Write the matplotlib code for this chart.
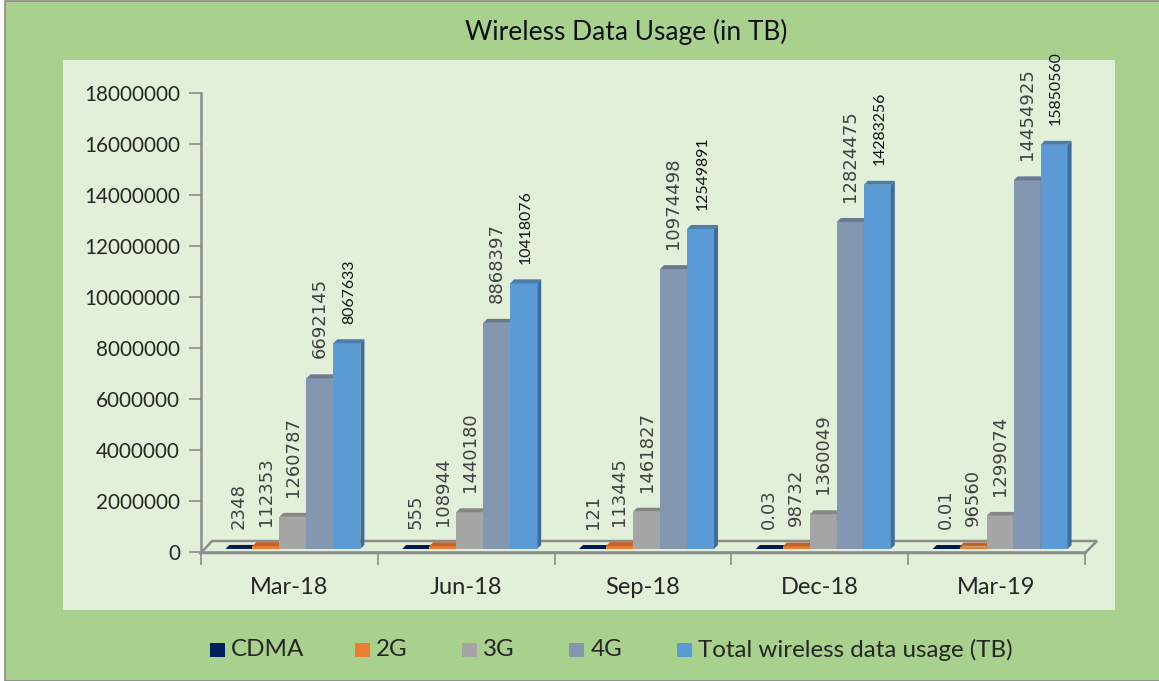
import matplotlib
matplotlib.use('Agg')
import matplotlib.pyplot as plt
from matplotlib.patches import Polygon, Rectangle

# Dados
quarters = ['Mar-18', 'Jun-18', 'Sep-18', 'Dec-18', 'Mar-19']
cdma = [2348, 555, 121, 0.03, 0.01]
g2 = [112353, 108944, 113445, 98732, 96560]
g3 = [1260787, 1440180, 1461827, 1360049, 1299074]
g4 = [6692145, 8868397, 10974498, 12824475, 14454925]
total = [8067633, 10418076, 12549891, 14283256, 15850560]
series_names = ['CDMA', '2G', '3G', '4G', 'Total wireless data usage (TB)']
y_ticks = [0, 2000000, 4000000, 6000000, 8000000, 10000000, 12000000, 14000000, 16000000, 18000000]

W, H = 1159, 681
colors = ['#002060', '#ED7D31', '#A5A5A5', '#8497B0', '#5B9BD5']
tops = ['#001a4d', '#c0652a', '#868686', '#6a7a90', '#4a7dad']
sides = ['#001a4d', '#b85f26', '#808080', '#64738a', '#3f6c99']
text_color = '#262626'
series = [cdma, g2, g3, g4, total]

plt.rcParams['font.family'] = ['Lato', 'DejaVu Sans']
fig = plt.figure(figsize=(W / 100, H / 100), dpi=100, facecolor='white')

# Fundo verde e painel claro
fig.patches.append(Rectangle((5 / W, 0), 1, 1 - 1 / H, transform=fig.transFigure,
                             facecolor='#A9D18E', edgecolor='#8a8a8a', linewidth=1.2))
fig.patches.append(Rectangle((63 / W, 1 - 610 / H), (1115 - 63) / W, (610 - 60) / H,
                             transform=fig.transFigure, facecolor='#E2F0D9', edgecolor='none'))

ax = fig.add_axes([201 / W, 1 - 552 / H, (1085 - 201) / W, (552 - 93) / H])
ax.set_zorder(5)
ax.patch.set_alpha(0)
ax.set_xlim(0, 5)
ax.set_ylim(0, 18000000)
px_x = 5 / (1085 - 201)
px_y = 18000000 / (552 - 93)

# Piso em perspectiva
ax.add_patch(Polygon([(0, -1 * px_y), (11 * px_x, 11 * px_y), (5 + 12 * px_x, 11 * px_y), (5, -1 * px_y)],
                     closed=True, facecolor='none', edgecolor='#8c8c8c', linewidth=1.8,
                     clip_on=False, zorder=1))

bar_w = 27 * px_x
lift = 3 * px_y
depth_x = 4 * px_x
depth_y = 4 * px_y
shift = 3.5 * px_x
for i, vals in enumerate(series):
    for k, v in enumerate(vals):
        left = k + 0.5 - 2.5 * bar_w + i * bar_w + shift
        # frente, topo e lateral da barra
        ax.bar(left, v, width=bar_w, bottom=lift, align='edge', color=colors[i],
               linewidth=0, zorder=3 + i, clip_on=False)
        top = v + lift
        ax.add_patch(Polygon([(left, top), (left + bar_w, top),
                              (left + bar_w + depth_x, top + depth_y), (left + depth_x, top + depth_y)],
                             closed=True, facecolor=tops[i], edgecolor='none', zorder=3 + i, clip_on=False))
        ax.add_patch(Polygon([(left + bar_w, lift), (left + bar_w + depth_x, lift + depth_y),
                              (left + bar_w + depth_x, top + depth_y), (left + bar_w, top)],
                             closed=True, facecolor=sides[i], edgecolor='none', zorder=3 + i, clip_on=False))
        # rotulos de dados
        if i == 4:
            ax.annotate(str(v), (left + bar_w / 2 + 2 * px_x, top), xytext=(0, 14), textcoords='offset points',
                        rotation=90, ha='center', va='bottom', fontsize=11.4, color='#111111',
                        family=['Lato', 'DejaVu Sans'], zorder=20, annotation_clip=False)
        else:
            ax.annotate(str(v), (left + bar_w / 2, top), xytext=(0, 14.5), textcoords='offset points',
                        rotation=90, ha='center', va='bottom', fontsize=13, color='#404040',
                        family='DejaVu Sans', zorder=20, annotation_clip=False)

for s in ['top', 'right']:
    ax.spines[s].set_visible(False)
for s in ['left', 'bottom']:
    ax.spines[s].set_color('#8c8c8c')
    ax.spines[s].set_linewidth(1.8)
ax.set_yticks(y_ticks)
ax.set_yticklabels([str(t) for t in y_ticks], fontsize=14.9, color=text_color)
ax.set_xticks(range(6))
ax.set_xticklabels([''] * 6)
ax.tick_params(axis='y', length=9, width=1.2, color='#8c8c8c', direction='out', pad=6)
ax.tick_params(axis='x', length=9, width=1.2, color='#8c8c8c', direction='out')
for k, q in enumerate(quarters):
    ax.text(k + 0.5, -36 * px_y, q, ha='center', va='center', fontsize=17, color=text_color)

fig.text(626 / W, 1 - 32 / H, 'Wireless Data Usage (in TB)', ha='center', va='center',
         fontsize=19, color='#111111')

# Legenda
leg_sq = [210, 355, 462, 569, 677]
leg_txt = [231, 376, 483, 591, 698]
for name, c, sx, tx in zip(series_names, colors, leg_sq, leg_txt):
    fig.patches.append(Rectangle((sx / W, 1 - 657 / H), 15 / W, 14 / H, transform=fig.transFigure,
                                 facecolor=c, edgecolor='none'))
    fig.text(tx / W, 1 - 650 / H, name, ha='left', va='center', fontsize=17.4, color=text_color)

fig.savefig('out.png', dpi=100)
